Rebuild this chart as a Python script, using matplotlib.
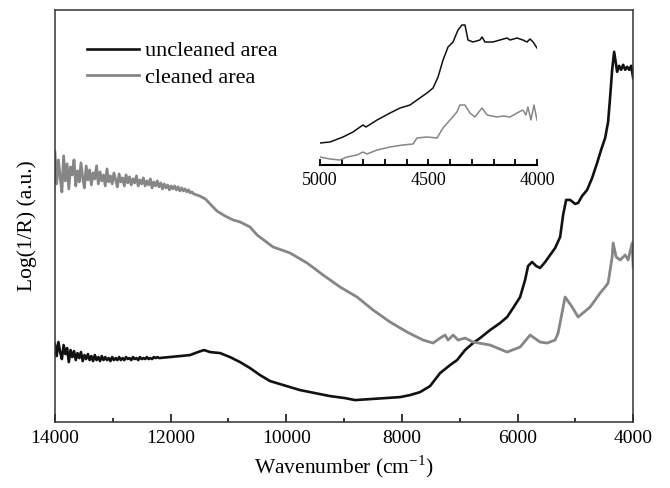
import matplotlib
matplotlib.use("Agg")
import matplotlib.pyplot as plt
from matplotlib.ticker import MultipleLocator

plt.rcParams["font.family"] = ["Liberation Serif", "DejaVu Serif"]
plt.rcParams["mathtext.fontset"] = "custom"
plt.rcParams["mathtext.rm"] = "Liberation Serif"

# NIR reflectance spectra, log(1/R) in arbitrary units
unc_wn = [14000, 13970, 13940, 13910, 13880, 13850, 13820, 13790, 13760, 13730,
          13700, 13670, 13640, 13610, 13580, 13550, 13520, 13490, 13460, 13430,
          13400, 13370, 13340, 13310, 13280, 13250, 13220, 13190, 13160, 13130,
          13100, 13070, 13040, 13010, 12980, 12950, 12920, 12890, 12860, 12830,
          12800, 12770, 12740, 12710, 12680, 12650, 12620, 12590, 12560, 12530,
          12500, 12470, 12440, 12410, 12380, 12350, 12320, 12290, 12260, 12230,
          12200, 12010, 11837, 11664, 11526, 11422, 11318, 11145, 10972, 10799,
          10626, 10453, 10280, 10107, 9934, 9761, 9502, 9242, 8983, 8810,
          8550, 8291, 8031, 7858, 7685, 7512, 7339, 7166, 7045, 6907,
          6768, 6647, 6474, 6301, 6180, 6076, 5955, 5869, 5817, 5747,
          5678, 5609, 5522, 5436, 5349, 5263, 5211, 5159, 5090, 5003,
          4952, 4882, 4796, 4709, 4623, 4554, 4484, 4433, 4398, 4363,
          4329, 4294, 4277, 4242, 4208, 4173, 4138, 4104, 4069, 4035, 4000]
unc_val = [0.78, 0.66, 0.80, 0.70, 0.63, 0.77, 0.68, 0.74, 0.60, 0.72,
           0.65, 0.71, 0.62, 0.69, 0.64, 0.70, 0.61, 0.67, 0.63, 0.68,
           0.62, 0.66, 0.61, 0.67, 0.62, 0.65, 0.61, 0.66, 0.62, 0.65,
           0.62, 0.64, 0.61, 0.65, 0.62, 0.64, 0.62, 0.65, 0.62, 0.64,
           0.62, 0.65, 0.63, 0.64, 0.62, 0.65, 0.63, 0.64, 0.62, 0.65,
           0.63, 0.64, 0.63, 0.65, 0.63, 0.64, 0.63, 0.65, 0.64, 0.65,
           0.64, 0.65, 0.66, 0.67, 0.70, 0.72, 0.70, 0.69, 0.65, 0.60,
           0.54, 0.47, 0.41, 0.38, 0.35, 0.32, 0.29, 0.26, 0.24, 0.22,
           0.23, 0.24, 0.25, 0.27, 0.30, 0.36, 0.49, 0.57, 0.62, 0.72,
           0.79, 0.84, 0.92, 0.99, 1.05, 1.14, 1.25, 1.42, 1.56, 1.60,
           1.56, 1.54, 1.60, 1.67, 1.74, 1.85, 2.07, 2.22, 2.22, 2.18,
           2.19, 2.26, 2.32, 2.44, 2.59, 2.72, 2.84, 3.00, 3.25, 3.52,
           3.70, 3.57, 3.50, 3.56, 3.52, 3.57, 3.52, 3.55, 3.52, 3.56, 3.44]

cln_wn = [14000, 13970, 13940, 13910, 13880, 13850, 13820, 13790, 13760, 13730,
          13700, 13670, 13640, 13610, 13580, 13550, 13520, 13490, 13460, 13430,
          13400, 13370, 13340, 13310, 13280, 13250, 13220, 13190, 13160, 13130,
          13100, 13070, 13040, 13010, 12980, 12950, 12920, 12890, 12860, 12830,
          12800, 12770, 12740, 12710, 12680, 12650, 12620, 12590, 12560, 12530,
          12500, 12470, 12440, 12410, 12380, 12350, 12320, 12290, 12260, 12230,
          12200, 12170, 12140, 12110, 12080, 12050, 12020, 11990, 11960, 11930,
          11900, 11870, 11840, 11810, 11780, 11750, 11720, 11690, 11660, 11630,
          11600, 11500, 11400, 11300, 11200, 11060, 10920, 10799, 10626, 10505,
          10228, 9934, 9640, 9363, 9069, 8775, 8498, 8204, 7910, 7633,
          7460, 7339, 7253, 7201, 7114, 7028, 6907, 6768, 6474, 6180,
          5955, 5782, 5609, 5488, 5349, 5298, 5177, 5055, 4952, 4744,
          4571, 4484, 4433, 4363, 4346, 4294, 4225, 4138, 4087, 4017, 4000]
cln_val = [2.70, 2.38, 2.62, 2.45, 2.30, 2.66, 2.41, 2.58, 2.33, 2.55,
           2.47, 2.62, 2.36, 2.51, 2.40, 2.59, 2.44, 2.34, 2.56, 2.42,
           2.52, 2.37, 2.49, 2.43, 2.56, 2.38, 2.50, 2.41, 2.47, 2.36,
           2.53, 2.40, 2.46, 2.38, 2.49, 2.42, 2.35, 2.48, 2.40, 2.44,
           2.36, 2.47, 2.39, 2.45, 2.37, 2.43, 2.39, 2.46, 2.36, 2.42,
           2.38, 2.44, 2.36, 2.41, 2.37, 2.43, 2.34, 2.40, 2.36, 2.41,
           2.35, 2.39, 2.33, 2.38, 2.34, 2.37, 2.32, 2.36, 2.33, 2.36,
           2.32, 2.35, 2.31, 2.34, 2.31, 2.33, 2.30, 2.32, 2.29, 2.30,
           2.28, 2.26, 2.23, 2.17, 2.11, 2.06, 2.02, 2.00, 1.95, 1.87,
           1.75, 1.69, 1.59, 1.47, 1.35, 1.25, 1.12, 1.00, 0.90, 0.82,
           0.79, 0.84, 0.87, 0.82, 0.87, 0.82, 0.84, 0.80, 0.77, 0.70,
           0.75, 0.87, 0.80, 0.79, 0.82, 0.89, 1.25, 1.15, 1.05, 1.15,
           1.29, 1.35, 1.39, 1.65, 1.79, 1.65, 1.62, 1.67, 1.62, 1.79, 1.55]

# zoom on the 5000-4000 cm-1 band
ins_wn_unc = [5000, 4954, 4894, 4848, 4802, 4788, 4737, 4677, 4631, 4585,
              4553, 4507, 4479, 4456, 4433, 4410, 4387, 4364, 4346, 4332,
              4318, 4295, 4263, 4253, 4240, 4203, 4171, 4138, 4124, 4092,
              4065, 4046, 4032, 4018, 4000]
ins_val_unc = [0.22, 0.23, 0.28, 0.33, 0.40, 0.38, 0.45, 0.52, 0.57, 0.60,
               0.65, 0.72, 0.77, 0.88, 1.05, 1.18, 1.23, 1.35, 1.40, 1.40,
               1.25, 1.23, 1.25, 1.28, 1.23, 1.23, 1.25, 1.27, 1.25, 1.27,
               1.25, 1.23, 1.26, 1.23, 1.17]
ins_wn_cln = [5000, 4954, 4908, 4876, 4829, 4802, 4783, 4737, 4677, 4618,
              4571, 4553, 4507, 4461, 4433, 4401, 4369, 4355, 4332, 4309,
              4286, 4272, 4253, 4230, 4184, 4157, 4124, 4092, 4065, 4051,
              4042, 4028, 4014, 4000]
ins_val_cln = [0.08, 0.06, 0.05, 0.08, 0.10, 0.13, 0.11, 0.15, 0.18, 0.20,
               0.21, 0.27, 0.28, 0.27, 0.37, 0.45, 0.53, 0.60, 0.60, 0.52,
               0.48, 0.52, 0.57, 0.50, 0.48, 0.49, 0.48, 0.52, 0.55, 0.50,
               0.58, 0.45, 0.60, 0.45]

BLACK = "#111111"
GREY = "#868686"

fig = plt.figure(figsize=(6.7, 4.88), dpi=100)
ax = fig.add_axes([0.082, 0.135, 0.863, 0.845])
ax.plot(unc_wn, unc_val, color=BLACK, lw=1.9, label="uncleaned area")
ax.plot(cln_wn, cln_val, color=GREY, lw=2.0, label="cleaned area")
ax.set_xlim(14000, 4000)
ax.set_ylim(0, 4.12)
ax.xaxis.set_major_locator(MultipleLocator(2000))
ax.xaxis.set_minor_locator(MultipleLocator(1000))
ax.tick_params(axis="x", which="both", direction="in", labelsize=14, pad=6)
ax.tick_params(axis="x", which="major", length=6, width=1.1)
ax.tick_params(axis="x", which="minor", length=3, width=1.1)
ax.set_yticks([])
for s in ax.spines.values():
    s.set_linewidth(1.1)
    s.set_color("#333333")
ax.set_xlabel("Wavenumber (cm$^{\\mathregular{-1}}$)", fontsize=15.5, labelpad=4)
ax.set_ylabel("Log(1/R) (a.u.)", fontsize=15.5)
ax.yaxis.set_label_coords(-0.031, 0.476)
ax.legend(loc="upper left", bbox_to_anchor=(0.021, 0.973), frameon=False,
          fontsize=16, handlelength=2.35, handletextpad=0.27, labelspacing=0.26)

ins = fig.add_axes([0.4776, 0.6619, 0.3239, 0.293])
ins.plot(ins_wn_unc, ins_val_unc, color=BLACK, lw=1.1)
ins.plot(ins_wn_cln, ins_val_cln, color=GREY, lw=1.1)
ins.set_xlim(5000, 4000)
ins.set_ylim(0, 1.43)
ins.patch.set_alpha(0)
for side in ("top", "left", "right"):
    ins.spines[side].set_visible(False)
ins.spines["bottom"].set_linewidth(1.5)
ins.set_yticks([])
ins.xaxis.set_major_locator(MultipleLocator(500))
ins.xaxis.set_minor_locator(MultipleLocator(100))
ins.tick_params(axis="x", which="both", direction="in", length=4, width=1.3,
                labelsize=13, pad=5)

fig.savefig("out.png", dpi=100)
